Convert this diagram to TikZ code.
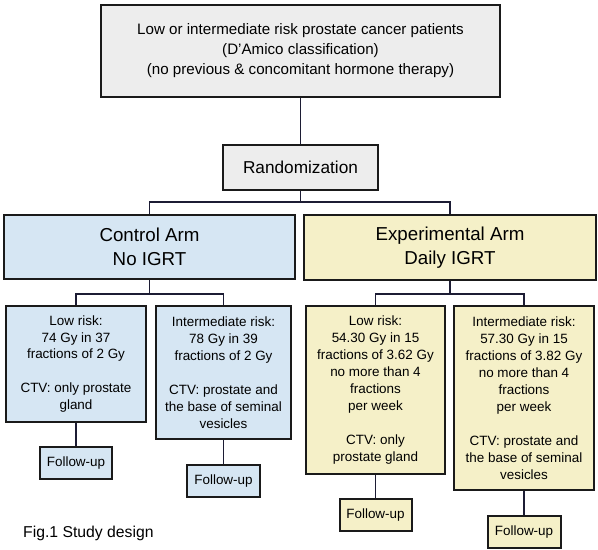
\documentclass[tikz,border=0pt]{standalone}
\usepackage{fontspec}
\setmainfont{Liberation Sans}
\definecolor{grayfill}{RGB}{237,237,237}
\definecolor{bluefill}{RGB}{214,230,243}
\definecolor{yellowfill}{RGB}{245,240,200}
\definecolor{boxline}{RGB}{26,26,26}
\definecolor{conn}{RGB}{28,28,52}
\tikzset{
  box/.style={draw=boxline, line width=2bp, inner sep=0pt, align=center,
    font=\fontsize{13.5}{17}\selectfont},
  conline/.style={draw=conn, line width=1.8bp},
}
\begin{document}
\begin{tikzpicture}[x=1bp,y=-1bp]
\useasboundingbox[fill=white] (0,0) rectangle (598,550);
% top
\node[box, fill=grayfill, minimum width=399bp, minimum height=92bp, line width=2.4bp,
  font=\fontsize{15.2}{20}\selectfont] (top) at (300.5,51)
  {Low or intermediate risk prostate cancer patients\\(D’Amico classification)\\(no previous \& concomitant hormone therapy)};
\node[box, fill=grayfill, minimum width=155bp, minimum height=45bp,
  font=\fontsize{17.3}{20}\selectfont] (rand) at (300.5,167.5) {Randomization};
% arms
\node[box, fill=bluefill, minimum width=291bp, minimum height=64bp,
  font=\fontsize{18.8}{24}\selectfont] (ctrl) at (149.5,247) {Control Arm\\No IGRT};
\node[box, fill=yellowfill, minimum width=292bp, minimum height=64bp,
  font=\fontsize{18.8}{24}\selectfont] (exp) at (450,247.5) {Experimental Arm\\Daily IGRT};
% sub boxes
\node[box, fill=bluefill, minimum width=140bp, minimum height=116bp] (clow) at (76,364)
  {Low risk:\\74 Gy in 37\\fractions of 2 Gy\\[17bp]CTV: only prostate\\gland};
\node[box, fill=bluefill, minimum width=135bp, minimum height=133bp] (cint) at (223.5,372.5)
  {Intermediate risk:\\78 Gy in 39\\fractions of 2 Gy\\[17bp]CTV: prostate and\\the base of seminal\\vesicles};
\node[box, fill=yellowfill, minimum width=139bp, minimum height=168bp] (elow) at (375.5,390)
  {Low risk:\\54.30 Gy in 15\\fractions of 3.62 Gy\\no more than 4\\fractions\\per week\\[17bp]CTV: only\\prostate gland};
\node[box, fill=yellowfill, minimum width=140bp, minimum height=184bp] (eint) at (524,398)
  {Intermediate risk:\\57.30 Gy in 15\\fractions of 3.82 Gy\\no more than 4\\fractions\\per week\\[17bp]CTV: prostate and\\the base of seminal\\vesicles};
% follow-ups
\node[box, fill=bluefill, minimum width=72bp, minimum height=32bp] (fc1) at (76,463) {Follow-up};
\node[box, fill=bluefill, minimum width=73bp, minimum height=32bp] (fc2) at (223.5,481) {Follow-up};
\node[box, fill=yellowfill, minimum width=72bp, minimum height=32bp] (fe1) at (375.5,515) {Follow-up};
\node[box, fill=yellowfill, minimum width=73bp, minimum height=32bp] (fe2) at (524,532) {Follow-up};
% caption
\node[anchor=west, inner sep=0pt, font=\fontsize{15.8}{18}\selectfont] (cap) at (23,533) {Fig.1 Study design};
% branch coordinates
\coordinate (b1) at (300.5,202);
\coordinate (b2) at (149.5,294);
\coordinate (b3) at (450,294);
% connectors
\draw[conline] (top.south) -- (rand.north);
\draw[conline] (rand.south) -- (b1);
\draw[conline] (b1) -| (ctrl.north);
\draw[conline] (b1) -| (exp.north);
\draw[conline] (ctrl.south) -- (b2);
\draw[conline] (b2) -| (clow.north);
\draw[conline] (b2) -| (cint.north);
\draw[conline] (exp.south) -- (b3);
\draw[conline] (b3) -| (elow.north);
\draw[conline] (b3) -| (eint.north);
\draw[conline] (clow.south) -- (fc1.north);
\draw[conline] (cint.south) -- (fc2.north);
\draw[conline] (elow.south) -- (fe1.north);
\draw[conline] (eint.south) -- (fe2.north);
\end{tikzpicture}
\end{document}
